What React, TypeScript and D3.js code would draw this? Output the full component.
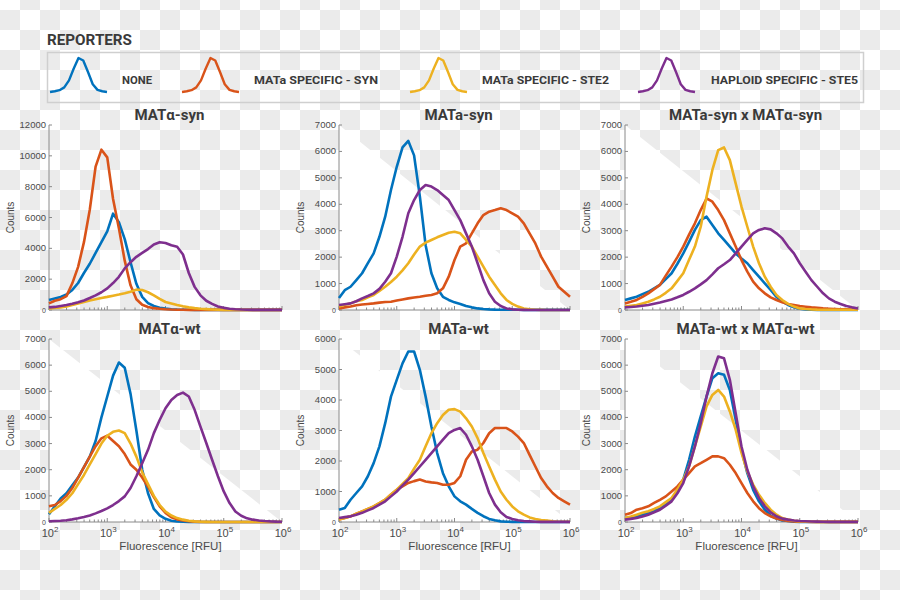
import React from 'react';
import * as d3 from 'd3';

// ---------- data ----------
const LOG_X = [
  2.0, 2.1, 2.2, 2.3, 2.4, 2.5, 2.6, 2.7, 2.8, 2.9,
  3.0, 3.1, 3.2, 3.3, 3.4, 3.5, 3.6, 3.7, 3.8, 3.9,
  4.0, 4.1, 4.2, 4.3, 4.4, 4.5, 4.6, 4.7, 4.8, 4.9,
  5.0, 5.1, 5.2, 5.3, 5.4, 5.5, 5.6, 5.7, 5.8, 5.9,
  6.0,
];

const SERIES_NAMES = ['NONE', 'MATa SPECIFIC - SYN', 'MATa SPECIFIC - STE2', 'HAPLOID SPECIFIC - STE5'];
const SERIES_COLORS = ['#0072BD', '#D95319', '#EDB120', '#7E2F8E'];

const PANEL_TITLES = ['MATα-syn', 'MATa-syn', 'MATa-syn x MATα-syn', 'MATα-wt', 'MATa-wt', 'MATa-wt x MATα-wt'];
const PANEL_YMAX = [12000, 7000, 7000, 7000, 6000, 7000];
const PANEL_YSTEP = [2000, 1000, 1000, 1000, 1000, 1000];
const X_TICK_EXP = [2, 3, 4, 5, 6];
const LEGEND_SHAPE = [0.03, 0.05, 0.08, 0.16, 0.36, 0.7, 1, 0.93, 0.6, 0.25, 0.09, 0.05, 0.03];

// Panel 1: MATα-syn
const P1_NONE = [
  650, 750, 850, 1000, 1300, 1750, 2400, 3000, 3700, 4400,
  5100, 6250, 5700, 4600, 3100, 1700, 850, 450, 260, 150,
  90, 50, 30, 20, 15, 10, 8, 5, 5, 5,
  5, 5, 5, 5, 5, 5, 5, 5, 5, 5,
  5,
];
const P1_SYN = [
  430, 600, 700, 900, 1730, 2800, 4400, 6500, 9300, 10400,
  9900, 7200, 5300, 3200, 1600, 700, 340, 200, 120, 80,
  50, 30, 20, 15, 10, 8, 5, 5, 5, 5,
  5, 5, 5, 5, 5, 5, 5, 5, 5, 5,
  5,
];
const P1_STE2 = [
  100, 130, 170, 230, 320, 420, 520, 620, 700, 780,
  850, 930, 1000, 1080, 1180, 1320, 1300, 1150, 950, 720,
  520, 420, 320, 240, 170, 120, 80, 55, 35, 20,
  10, 5, 0, 0, 0, 0, 0, 0, 0, 0,
  0,
];
const P1_STE5 = [
  170, 200, 260, 320, 400, 500, 620, 780, 950, 1150,
  1400, 1750, 2150, 2700, 3100, 3450, 3700, 3950, 4250, 4400,
  4350, 4200, 4100, 3600, 2400, 1500, 950, 600, 400, 230,
  140, 80, 50, 30, 20, 10, 5, 5, 5, 5,
  5,
];

// Panel 2: MATa-syn
const P2_NONE = [
  450, 750, 880, 1130, 1390, 1770, 2140, 2770, 3530, 4540,
  5420, 6150, 6400, 5850, 4300, 2450, 1390, 820, 500, 380,
  290, 230, 150, 100, 60, 40, 25, 15, 10, 10,
  10, 10, 5, 5, 5, 5, 5, 5, 5, 5,
  5,
];
const P2_SYN = [
  60, 100, 130, 180, 210, 230, 250, 280, 300, 315,
  360, 400, 440, 470, 500, 540, 570, 630, 820, 1260,
  1890, 2400, 2520, 2900, 3280, 3590, 3720, 3780, 3850, 3780,
  3660, 3530, 3280, 2900, 2520, 2020, 1640, 1260, 880, 690,
  500,
];
const P2_STE2 = [
  130, 200, 250, 330, 380, 480, 570, 720, 880, 1060,
  1260, 1500, 1770, 2100, 2400, 2550, 2650, 2750, 2840, 2920,
  2960, 2900, 2650, 2400, 2020, 1640, 1260, 950, 630, 380,
  230, 130, 60, 25, 10, 5, 0, 0, 0, 0,
  0,
];
const P2_STE5 = [
  190, 220, 250, 330, 440, 530, 630, 800, 1070, 1390,
  2020, 2770, 3660, 4160, 4540, 4730, 4670, 4540, 4350, 4160,
  3780, 3400, 2900, 2400, 1770, 1130, 630, 315, 150, 60,
  25, 10, 5, 0, 0, 0, 0, 0, 0, 0,
  0,
];

// Panel 3: MATa-syn x MATα-syn
const P3_NONE = [
  380, 440, 500, 600, 690, 820, 950, 1170, 1390, 1750,
  2140, 2580, 3030, 3400, 3530, 3220, 2900, 2650, 2400, 2140,
  1950, 1770, 1510, 1260, 1010, 760, 500, 315, 190, 100,
  50, 25, 10, 5, 5, 5, 5, 5, 5, 5,
  5,
];
const P3_SYN = [
  250, 310, 380, 500, 630, 790, 950, 1300, 1640, 2000,
  2400, 2850, 3280, 3780, 4220, 4100, 3780, 3400, 2900, 2400,
  1890, 1450, 1070, 820, 630, 480, 380, 290, 230, 190,
  150, 125, 100, 80, 60, 50, 40, 30, 25, 15,
  10,
];
const P3_STE2 = [
  130, 160, 190, 250, 315, 400, 500, 650, 820, 1100,
  1390, 1900, 2400, 3150, 4290, 5300, 6050, 6150, 5670, 4790,
  3910, 3150, 2400, 1770, 1260, 880, 570, 380, 230, 130,
  60, 40, 25, 15, 10, 10, 10, 10, 10, 10,
  10,
];
const P3_STE5 = [
  100, 115, 130, 160, 190, 235, 280, 340, 400, 480,
  570, 690, 820, 970, 1130, 1350, 1580, 1730, 1890, 2140,
  2400, 2650, 2900, 3030, 3090, 3050, 2900, 2710, 2400, 2140,
  1770, 1450, 1130, 880, 630, 440, 315, 230, 150, 100,
  60,
];

// Panel 4: MATα-wt
const P4_NONE = [
  300, 600, 900, 1100, 1400, 1700, 2100, 2500, 3100, 4000,
  4800, 5600, 6100, 5900, 4900, 3500, 2000, 1100, 500, 250,
  120, 50, 20, 10, 5, 0, 0, 0, 0, 0,
  0, 0, 0, 0, 0, 0, 0, 0, 0, 0,
  0,
];
const P4_SYN = [
  600, 650, 800, 1000, 1300, 1700, 2100, 2500, 2900, 3200,
  3300, 3100, 2900, 2600, 2200, 2000, 1700, 1350, 950, 600,
  350, 180, 100, 60, 30, 15, 5, 0, 0, 0,
  0, 0, 0, 0, 0, 0, 0, 0, 0, 0,
  0,
];
const P4_STE2 = [
  350, 500, 650, 850, 1100, 1450, 1800, 2200, 2600, 3000,
  3300, 3450, 3500, 3400, 3000, 2500, 1900, 1450, 1000, 650,
  400, 250, 150, 90, 50, 25, 10, 5, 0, 0,
  0, 0, 0, 0, 0, 0, 0, 0, 0, 0,
  0,
];
const P4_STE5 = [
  30, 40, 50, 70, 100, 140, 190, 250, 330, 420,
  520, 650, 800, 980, 1300, 1750, 2250, 2760, 3400, 3900,
  4350, 4670, 4860, 4950, 4800, 4290, 3650, 3020, 2380, 1750,
  1170, 725, 400, 240, 140, 90, 60, 40, 25, 15,
  10,
];

// Panel 5: MATa-wt
const P5_NONE = [
  400, 460, 730, 950, 1170, 1500, 1930, 2480, 3240, 4110,
  4660, 5200, 5590, 5590, 4990, 4110, 3130, 2260, 1600, 1170,
  840, 680, 570, 430, 300, 190, 100, 55, 20, 10,
  5, 0, 0, 0, 0, 0, 0, 0, 0, 0,
  0,
];
const P5_SYN = [
  80, 130, 185, 270, 350, 430, 510, 620, 730, 900,
  1060, 1170, 1280, 1340, 1390, 1330, 1300, 1280, 1220, 1220,
  1280, 1500, 2040, 2310, 2370, 2590, 2910, 3080, 3080, 3080,
  2970, 2800, 2590, 2200, 1820, 1440, 1170, 950, 790, 680,
  570,
];
const P5_STE2 = [
  80, 130, 185, 270, 350, 430, 510, 620, 730, 900,
  1060, 1250, 1440, 1750, 2040, 2480, 2910, 3240, 3510, 3680,
  3700, 3620, 3400, 3130, 2750, 2260, 1820, 1390, 1000, 730,
  510, 350, 240, 150, 100, 65, 45, 20, 10, 10,
  5,
];
const P5_STE5 = [
  130, 160, 185, 240, 300, 380, 460, 570, 680, 840,
  1000, 1200, 1390, 1600, 1820, 2040, 2260, 2480, 2700, 2910,
  3020, 3080, 2860, 2480, 2040, 1500, 950, 570, 320, 165,
  100, 55, 30, 20, 10, 5, 5, 5, 5, 5,
  5,
];

// Panel 6: MATa-wt x MATα-wt
const P6_NONE = [
  150, 180, 220, 280, 340, 430, 530, 690, 850, 1200,
  1620, 2380, 3270, 4040, 4800, 5500, 5690, 5630, 5050, 3910,
  2760, 1870, 1230, 790, 470, 240, 130, 60, 40, 15,
  5, 0, 0, 0, 0, 0, 0, 0, 0, 0,
  0,
];
const P6_SYN = [
  280, 340, 470, 530, 600, 730, 850, 980, 1170, 1360,
  1620, 1870, 2130, 2250, 2380, 2510, 2510, 2440, 2190, 1870,
  1490, 1110, 790, 530, 340, 220, 130, 75, 40, 25,
  15, 10, 5, 5, 5, 5, 5, 5, 5, 5,
  5,
];
const P6_STE2 = [
  150, 210, 280, 350, 410, 500, 600, 760, 920, 1250,
  1620, 2130, 2890, 3650, 4420, 4860, 5050, 4800, 4230, 3530,
  2640, 1930, 1430, 1040, 730, 470, 280, 150, 90, 50,
  25, 15, 10, 5, 5, 5, 5, 5, 5, 5,
  5,
];
const P6_STE5 = [
  90, 120, 150, 210, 280, 370, 470, 620, 790, 1100,
  1490, 2130, 2890, 3780, 4800, 5690, 6330, 6260, 5440, 4160,
  2890, 2000, 1360, 920, 600, 370, 220, 130, 90, 60,
  40, 30, 20, 15, 10, 5, 5, 5, 5, 5,
  5,
];

const PANEL_SERIES = [
  [P1_NONE, P1_SYN, P1_STE2, P1_STE5],
  [P2_NONE, P2_SYN, P2_STE2, P2_STE5],
  [P3_NONE, P3_SYN, P3_STE2, P3_STE5],
  [P4_NONE, P4_SYN, P4_STE2, P4_STE5],
  [P5_NONE, P5_SYN, P5_STE2, P5_STE5],
  [P6_NONE, P6_SYN, P6_STE2, P6_STE5],
];

// ---------- layout ----------
const COL_X: [number, number][] = [[49, 282], [339, 570], [625, 858]];
const ROW_Y: [number, number][] = [[125, 310], [339, 522]];
const LEGEND_ICON_X = [50, 182, 410, 638];
const LEGEND_TEXT_X = [122, 254, 482, 711];
const LEGEND_TEXT_W = [30, 124, 127, 147];

const AXIS_COLOR = '#8a8a8a';
const TEXT_COLOR = '#4a4a4a';
const SANS = '"Liberation Sans", Arial, Helvetica, sans-serif';
const BOLD = 'Roboto, "Liberation Sans", sans-serif';

function Panel({ idx }: { idx: number }) {
  const col = idx % 3;
  const row = Math.floor(idx / 3);
  const [x0, x1] = COL_X[col];
  const [yTop, yBot] = ROW_Y[row];
  const x = d3.scaleLog().domain([1e2, 1e6]).range([x0, x1]);
  const y = d3.scaleLinear().domain([0, PANEL_YMAX[idx]]).range([yBot, yTop]);
  const yTicks = d3.range(0, PANEL_YMAX[idx] + 1, PANEL_YSTEP[idx]);
  const line = d3
    .line<number>()
    .x((_, i) => x(Math.pow(10, LOG_X[i])))
    .y((v) => y(v))
    .curve(d3.curveLinear);
  const minor: number[] = [];
  for (let k = 2; k < 6; k++) for (let m = 2; m <= 9; m++) minor.push(m * Math.pow(10, k));
  const cx = (x0 + x1) / 2;
  const cy = (yTop + yBot) / 2;
  const showXLabels = row === 1;
  return (
    <g>
      {idx !== 0 && (
        <polygon points={`${x0},${yTop} ${x1},${yBot} ${x0},${yBot}`} fill="#ffffff" />
      )}
      <text
        x={cx + 4}
        y={yTop - 5}
        textAnchor="middle"
        fontFamily={BOLD}
        fontWeight={700}
        fontSize={15}
        fill="#3a3a3a"
      >
        {PANEL_TITLES[idx]}
      </text>
      <line x1={x0} x2={x0} y1={yTop} y2={yBot} stroke={AXIS_COLOR} strokeWidth={1} />
      <line x1={x0} x2={x1} y1={yBot} y2={yBot} stroke={AXIS_COLOR} strokeWidth={1} />
      {yTicks.map((t) => (
        <g key={t}>
          <line x1={x0} x2={x0 + 3} y1={y(t)} y2={y(t)} stroke={AXIS_COLOR} />
          <text
            x={x0 - 3}
            y={y(t) + 3}
            textAnchor="end"
            fontFamily={SANS}
            fontSize={t === 0 ? 7 : 9.5}
            fill={TEXT_COLOR}
          >
            {t}
          </text>
        </g>
      ))}
      {minor.map((m) => (
        <line key={m} x1={x(m)} x2={x(m)} y1={yBot} y2={yBot - 2.5} stroke={AXIS_COLOR} />
      ))}
      {X_TICK_EXP.map((e) => (
        <g key={e}>
          <line x1={x(Math.pow(10, e))} x2={x(Math.pow(10, e))} y1={yBot} y2={yBot - 4} stroke={AXIS_COLOR} />
          {showXLabels && (
            <text
              x={x(Math.pow(10, e)) + 1}
              y={yBot + 15}
              textAnchor="middle"
              fontFamily={SANS}
              fontSize={11}
              fill={TEXT_COLOR}
            >
              10
              <tspan fontSize={8} dy={-5}>
                {e}
              </tspan>
            </text>
          )}
        </g>
      ))}
      {showXLabels && (
        <text x={cx + 5} y={yBot + 28} textAnchor="middle" fontFamily={SANS} fontSize={11.5} fill={TEXT_COLOR}>
          Fluorescence [RFU]
        </text>
      )}
      <text
        transform={`translate(${x0 - 35},${cy}) rotate(-90)`}
        textAnchor="middle"
        fontFamily={SANS}
        fontSize={10}
        fill={TEXT_COLOR}
      >
        Counts
      </text>
      {PANEL_SERIES[idx].map((vals, s) => (
        <path
          key={s}
          d={line(vals) || ''}
          fill="none"
          stroke={SERIES_COLORS[s]}
          strokeWidth={2.6}
          strokeLinejoin="round"
        />
      ))}
    </g>
  );
}

function Legend() {
  const iconW = 57;
  const lx = d3.scaleLinear().domain([0, LEGEND_SHAPE.length - 1]);
  const ly = d3.scaleLinear().domain([0, 1]).range([93, 58]);
  return (
    <g>
      <text x={47} y={45} fontFamily={BOLD} fontWeight={700} fontSize={14} fill="#3a3a3a" textLength={85} lengthAdjust="spacingAndGlyphs">
        REPORTERS
      </text>
      <rect x={47.5} y={52.5} width={816} height={50} fill="none" stroke="#cfcfcf" strokeWidth={1.5} />
      {SERIES_NAMES.map((name, s) => {
        const sx = lx.copy().range([LEGEND_ICON_X[s], LEGEND_ICON_X[s] + iconW]);
        const path = d3
          .line<number>()
          .x((_, i) => sx(i))
          .y((v) => ly(v))(LEGEND_SHAPE);
        return (
          <g key={name}>
            <path d={path || ''} fill="none" stroke={SERIES_COLORS[s]} strokeWidth={2.4} strokeLinejoin="round" />
            <text
              x={LEGEND_TEXT_X[s]}
              y={84}
              fontFamily={BOLD}
              fontWeight={700}
              fontSize={11}
              fill="#3a3a3a"
              textLength={LEGEND_TEXT_W[s]}
              lengthAdjust="spacingAndGlyphs"
            >
              {name}
            </text>
          </g>
        );
      })}
    </g>
  );
}

export default function App() {
  return (
    <div style={{ position: 'absolute', left: 0, top: 0 }}>
      <svg width={900} height={600} xmlns="http://www.w3.org/2000/svg" style={{ display: 'block' }}>
        <defs>
          <pattern id="checker" x={0} y={-10} width={40} height={40} patternUnits="userSpaceOnUse">
            <rect x={0} y={0} width={40} height={40} fill="#ffffff" />
            <rect x={20} y={0} width={20} height={20} fill="#ebebeb" />
            <rect x={0} y={20} width={20} height={20} fill="#ebebeb" />
          </pattern>
        </defs>
        <rect x={0} y={0} width={900} height={600} fill="url(#checker)" />
        <Legend />
        {PANEL_TITLES.map((_, i) => (
          <Panel key={i} idx={i} />
        ))}
      </svg>
    </div>
  );
}
